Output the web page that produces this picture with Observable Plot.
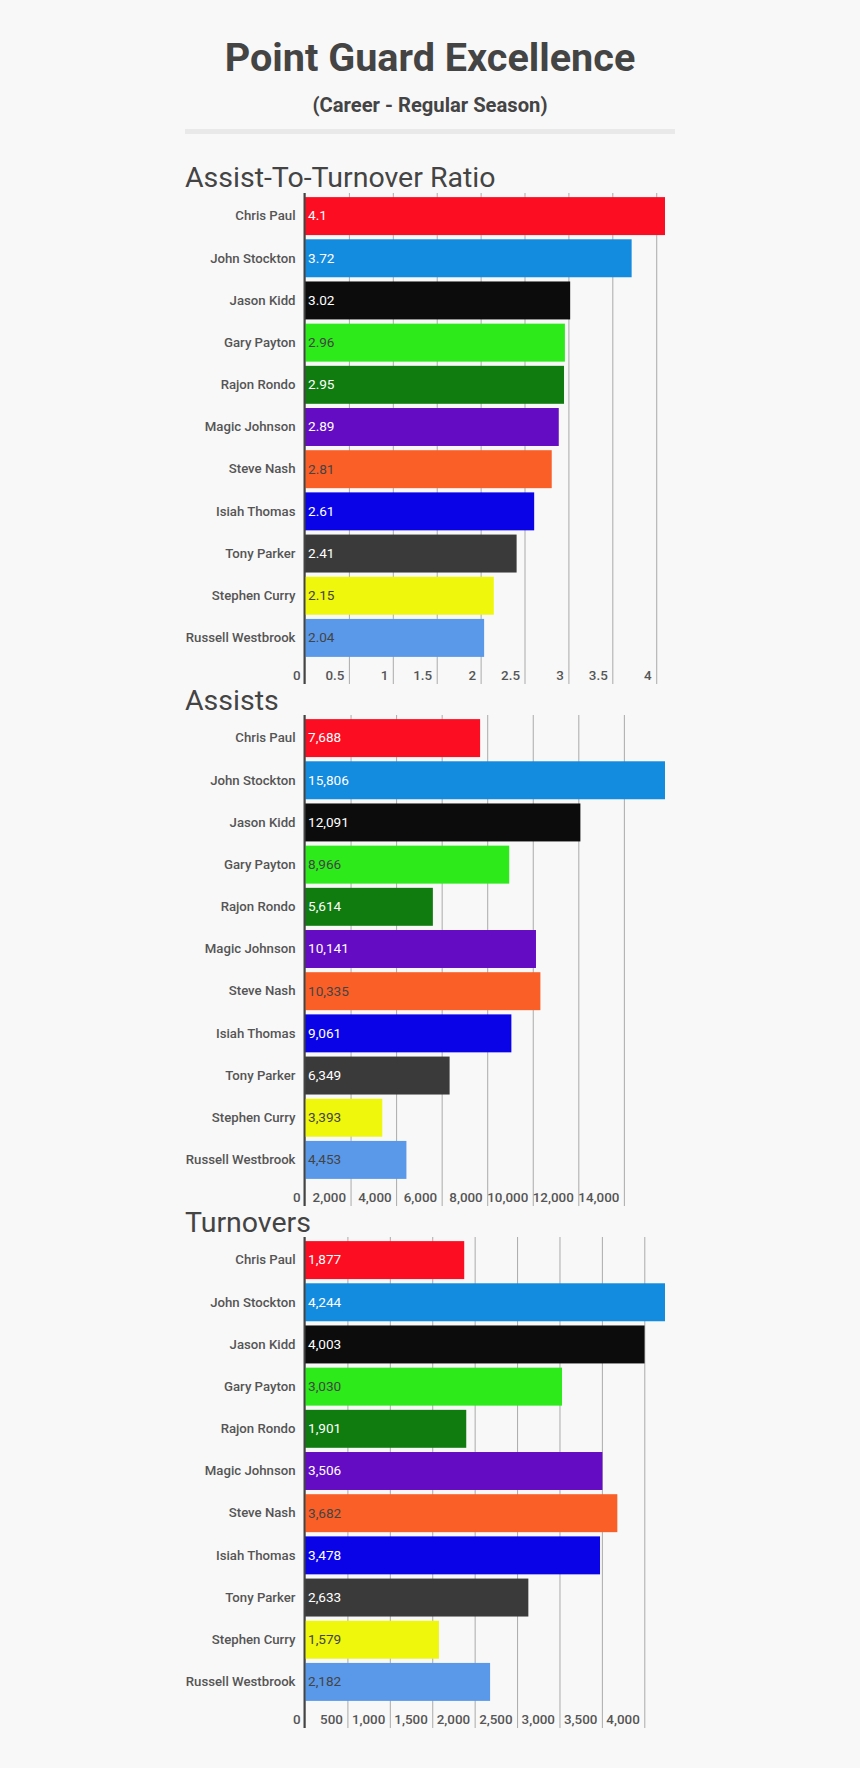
<!DOCTYPE html>
<html>
<head>
<meta charset="utf-8">
<title>Point Guard Excellence</title>
<script src="https://cdn.jsdelivr.net/npm/d3@7"></script>
<script src="https://cdn.jsdelivr.net/npm/@observablehq/plot@0.6"></script>
<style>
  html, body { margin: 0; padding: 0; background: #f8f8f8; }
  #page { position: relative; width: 860px; height: 1768px; overflow: hidden; font-family: Roboto, sans-serif; color: #444; }
  #page > * { position: absolute; margin: 0; }
  h1 { left: 0; width: 860px; top: 33px; text-align: center; font-size: 39.6px; line-height: 50px; font-weight: 700; }
  h2 { left: 0; width: 860px; top: 91px; text-align: center; font-size: 20.2px; line-height: 28px; font-weight: 700; }
  .rule { left: 185px; top: 129px; width: 490px; height: 5px; background: #e9e9e9; }
  h3 { left: 185px; font-size: 28.5px; line-height: 38px; font-weight: 400; }
</style>
</head>
<body>
<div id="page">
  <h1>Point Guard Excellence</h1>
  <h2>(Career - Regular Season)</h2>
  <div class="rule"></div>
</div>
<script>
// players in the order they are listed in every panel
const players = ["Chris Paul", "John Stockton", "Jason Kidd", "Gary Payton", "Rajon Rondo", "Magic Johnson", "Steve Nash", "Isiah Thomas", "Tony Parker", "Stephen Curry", "Russell Westbrook"];
const barColors = ["#fc0d22", "#138bdf", "#0c0c0c", "#2dea1b", "#107c10", "#640bc4", "#fa5f28", "#0a03e8", "#3a3a3a", "#eef70c", "#5a99e9"];
const valueColors = ["#fff", "#fff", "#fff", "#444", "#fff", "#fff", "#444", "#fff", "#fff", "#444", "#444"];

const ratioValues = [4.1, 3.72, 3.02, 2.96, 2.95, 2.89, 2.81, 2.61, 2.41, 2.15, 2.04];
const assistValues = [7688, 15806, 12091, 8966, 5614, 10141, 10335, 9061, 6349, 3393, 4453];
const turnoverValues = [1877, 4244, 4003, 3030, 1901, 3506, 3682, 3478, 2633, 1579, 2182];

const ratioTicks = [0, 0.5, 1, 1.5, 2, 2.5, 3, 3.5, 4];
const assistTicks = [0, 2000, 4000, 6000, 8000, 10000, 12000, 14000];
const turnoverTicks = [0, 500, 1000, 1500, 2000, 2500, 3000, 3500, 4000];

const page = document.getElementById("page");
const commas = d3.format(",");

function addPanel(heading, headingTop, plotTop, values, ticks, format) {
  const rows = players.map((name, i) => ({ name, value: values[i], fill: barColors[i], label: valueColors[i] }));

  const h = document.createElement("h3");
  h.textContent = heading;
  h.style.top = headingTop + "px";
  page.appendChild(h);

  const chart = Plot.plot({
    width: 860,
    height: 491,
    marginTop: 0,
    marginBottom: 0,
    marginLeft: 305,
    marginRight: 195,
    style: { background: "transparent", fontFamily: "Roboto, sans-serif", color: "#444", overflow: "visible" },
    x: { domain: [0, d3.max(values)], axis: null },
    // round off, otherwise Plot snaps the band step to a whole pixel and the rows drift
    y: { domain: players, range: [2, 466], paddingInner: 0.1, paddingOuter: 0.05, round: false, axis: null },
    marks: [
      Plot.gridX(ticks, { stroke: "#aaa", strokeOpacity: 1, strokeWidth: 1 }),
      Plot.barX(rows, { x: "value", y: "name", fill: d => d.fill }),
      Plot.ruleX([0], { stroke: "#444", strokeWidth: 2, dx: -1 }),
      Plot.axisY({ tickSize: 0, tickPadding: 10, dy: -0.5, fontSize: 13.2, fontWeight: 500, fill: "#555", label: null }),
      Plot.axisX(ticks, { anchor: "bottom", tickSize: 0, tickPadding: 0, textAnchor: "end", lineAnchor: "middle", dx: -5, dy: -9, fontSize: 13.4, fontWeight: 500, fill: "#555", label: null, tickFormat: format }),
      Plot.text(rows, { x: 0, y: "name", text: d => format(d.value), textAnchor: "start", dx: 2.5, dy: -0.5, fontSize: 13.6, fontWeight: 400, fill: d => d.label })
    ]
  });
  chart.style.left = "0px";
  chart.style.top = plotTop + "px";
  page.appendChild(chart);
}

addPanel("Assist-To-Turnover Ratio", 159, 193, ratioValues, ratioTicks, d => String(d));
addPanel("Assists", 682, 715, assistValues, assistTicks, commas);
addPanel("Turnovers", 1204, 1237, turnoverValues, turnoverTicks, commas);
</script>
</body>
</html>
